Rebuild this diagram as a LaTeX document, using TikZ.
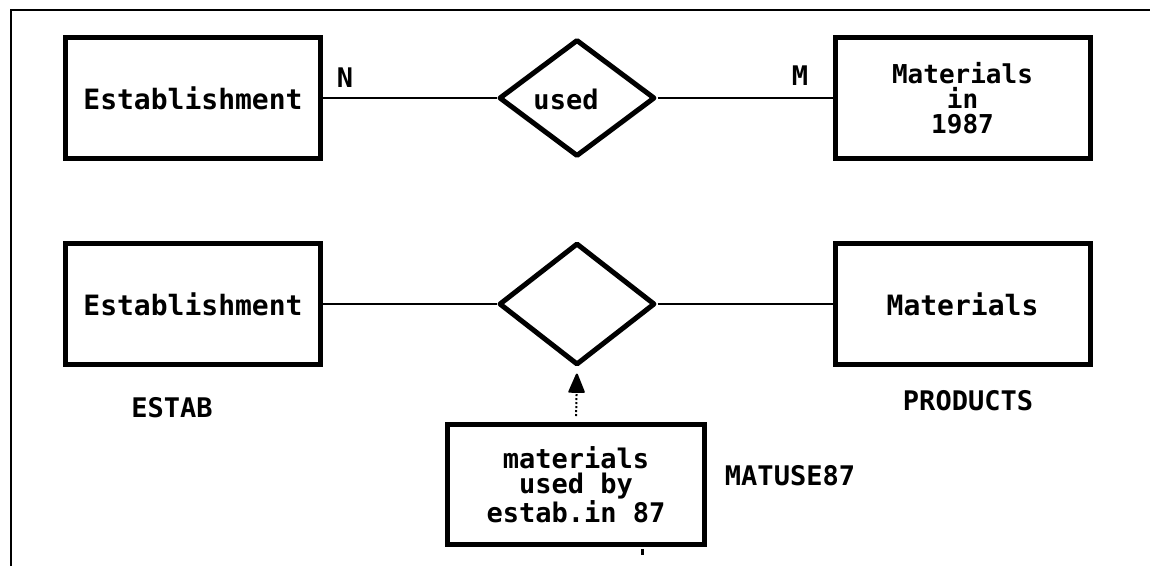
\documentclass[tikz,border=0pt]{standalone}
\usepackage{fontspec}
\setmonofont{DejaVu Sans Mono}
\usetikzlibrary{shapes.geometric,arrows.meta}
\tikzset{
  ent/.style={draw, line width=5pt, minimum width=255pt, minimum height=121pt, inner sep=0pt,
    align=center, font=\fontsize{28}{25}\selectfont\ttfamily\bfseries},
  rel/.style={draw, diamond, line width=5pt, inner sep=0pt, line join=round,
    font=\fontsize{28}{25}\selectfont\ttfamily\bfseries},
  lbl/.style={font=\fontsize{27}{25}\selectfont\ttfamily\bfseries, inner sep=0pt},
  conn/.style={line width=2pt},
}
\begin{document}
\begin{tikzpicture}[x=1pt,y=-1pt]
\useasboundingbox (0,0) rectangle (1150,566);
% frame
\draw[line width=2pt] (11,566) -- (11,10) -- (1150,10);
% top row
\node[ent] (est1) at (193,98) {Establishment};
\node[rel, minimum width=156pt, minimum height=117pt] (used) at (577,98) {};
\node[lbl] (usedtxt) at (566,99) {used};
\node[ent, font=\fontsize{26}{25}\selectfont\ttfamily\bfseries] (mat1) at (962.5,98) {Materials\\in\\1987};
\draw[conn] (est1.east) -- (used.west);
\draw[conn] (used.east) -- (mat1.west);
\node[lbl] (N) at (345,78) {N};
\node[lbl] (M) at (800,76) {M};
% bottom row
\node[ent] (est2) at (193,304) {Establishment};
\node[rel, minimum width=156pt, minimum height=122pt] (rel2) at (577,304) {};
\node[ent] (mat2) at (962.5,304) {Materials};
\draw[conn] (est2.east) -- (rel2.west);
\draw[conn] (rel2.east) -- (mat2.west);
\node[lbl] (estab) at (172,408) {ESTAB};
\node[lbl] (prod) at (968,401) {PRODUCTS};
% associative entity
\node[ent, minimum width=257pt, minimum height=120pt, font=\fontsize{27}{25}\selectfont\ttfamily\bfseries] (mu) at (576,484.5) {materials\\used by\\estab.in 87};
\node[lbl] (matuse) at (790,476) {MATUSE87};
\draw[line width=2pt, dotted, shorten <=6pt, shorten >=6pt,
  -{Triangle[width=17pt,length=21pt,round]}] (mu.north) -- (rel2.south);
\coordinate (tk1) at (642,549);
\coordinate (tk2) at (642,555);
\draw[line width=3pt] (tk1) -- (tk2);
\end{tikzpicture}
\end{document}
